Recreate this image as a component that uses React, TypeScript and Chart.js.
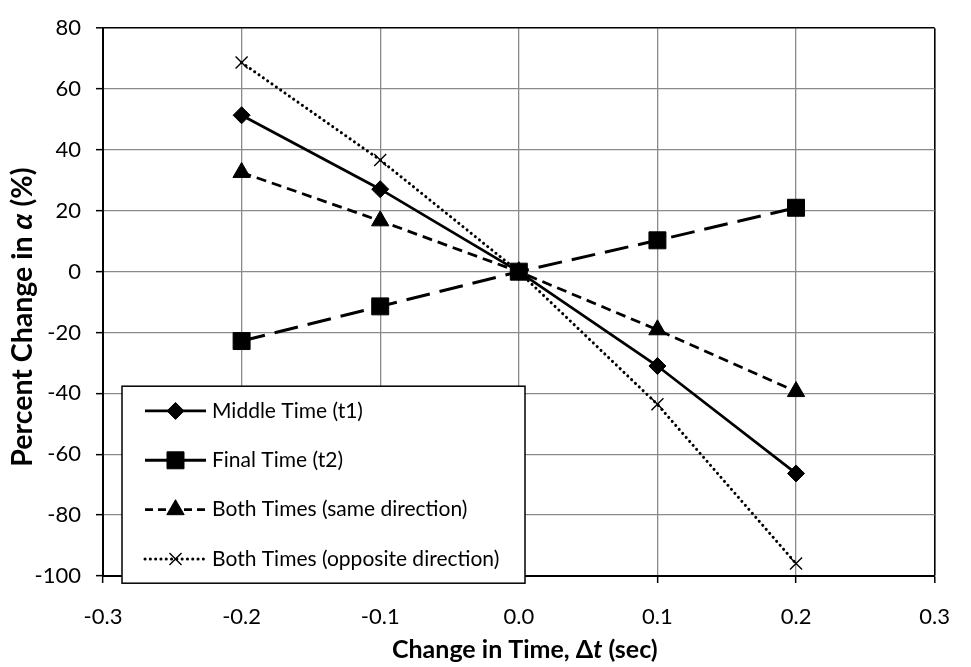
import React, { useEffect, useRef } from 'react';
import { Chart, registerables } from 'chart.js';

Chart.register(...registerables);

// ---- data ----
const deltaT = [-0.2, -0.1, 0.0, 0.1, 0.2];
const middleTime = [51.4, 27.1, 0, -31.0, -66.3];
const finalTime = [-22.8, -11.4, 0, 10.3, 21.0];
const bothSame = [32.6, 16.7, 0, -19.1, -39.4];
const bothOpposite = [68.7, 36.7, 0, -43.6, -95.9];
const seriesLabels = [
  'Middle Time (t1)',
  'Final Time (t2)',
  'Both Times (same direction)',
  'Both Times (opposite direction)',
];
const xMin = -0.3;
const xMax = 0.3;
const xStep = 0.1;
const yMin = -100;
const yMax = 80;
const yStep = 20;
const xTitleParts = [
  { text: 'Change in Time, \u0394', italic: false },
  { text: 't', italic: true },
  { text: ' (sec)', italic: false },
];
const yTitleParts = [
  { text: 'Percent Change in ', italic: false },
  { text: '\u03B1', italic: true },
  { text: ' (%)', italic: false },
];

const FONT = 'Lato, "Open Sans", sans-serif';
const GRID = '#8a8a8a';

function drawMarker(ctx: CanvasRenderingContext2D, style: string, x: number, y: number, r: number, bw: number) {
  ctx.save();
  ctx.fillStyle = '#000';
  ctx.strokeStyle = '#000';
  ctx.lineWidth = bw;
  ctx.setLineDash([]);
  ctx.beginPath();
  if (style === 'rectRot') {
    ctx.moveTo(x - r, y);
    ctx.lineTo(x, y - r);
    ctx.lineTo(x + r, y);
    ctx.lineTo(x, y + r);
    ctx.closePath();
    ctx.fill();
    ctx.stroke();
  } else if (style === 'rect') {
    const s = Math.SQRT1_2 * r;
    ctx.rect(x - s, y - s, 2 * s, 2 * s);
    ctx.fill();
    ctx.stroke();
  } else if (style === 'triangle') {
    for (let k = 0; k < 3; k++) {
      const ang = (k * 2 * Math.PI) / 3;
      const px = x + Math.sin(ang) * r;
      const py = y - Math.cos(ang) * r;
      if (k === 0) ctx.moveTo(px, py);
      else ctx.lineTo(px, py);
    }
    ctx.closePath();
    ctx.fill();
    ctx.stroke();
  } else if (style === 'crossRot') {
    const d = Math.SQRT1_2 * r;
    ctx.moveTo(x - d, y - d);
    ctx.lineTo(x + d, y + d);
    ctx.moveTo(x - d, y + d);
    ctx.lineTo(x + d, y - d);
    ctx.stroke();
  }
  ctx.restore();
}

function drawMixed(
  ctx: CanvasRenderingContext2D,
  parts: { text: string; italic: boolean }[],
  size: number,
  cx: number,
  cy: number,
  rot: number
) {
  ctx.save();
  ctx.translate(cx, cy);
  ctx.rotate(rot);
  ctx.fillStyle = '#000';
  ctx.textBaseline = 'middle';
  ctx.textAlign = 'left';
  const fonts = parts.map((p) => `${p.italic ? 'italic ' : ''}bold ${size}px ${FONT}`);
  let total = 0;
  const widths = parts.map((p, i) => {
    ctx.font = fonts[i];
    const w = ctx.measureText(p.text).width;
    total += w;
    return w;
  });
  let x = -total / 2;
  parts.forEach((p, i) => {
    ctx.font = fonts[i];
    ctx.fillText(p.text, x, 0);
    x += widths[i];
  });
  ctx.restore();
}

const boxLegend = {
  id: 'boxLegend',
  afterDatasetsDraw(chart: any) {
    const { ctx, chartArea } = chart;
    const left = chartArea.left + 19;
    const top = chartArea.top + 358;
    const w = 403;
    const h = 197;
    ctx.save();
    ctx.fillStyle = '#fff';
    ctx.fillRect(left, top, w, h);
    ctx.strokeStyle = '#000';
    ctx.lineWidth = 1.5;
    ctx.setLineDash([]);
    ctx.strokeRect(left, top, w, h);
    chart.data.datasets.forEach((ds: any, i: number) => {
      const y = top + 24.7 + i * 49.4;
      const x0 = left + 23;
      const x1 = left + 84;
      ctx.save();
      ctx.beginPath();
      ctx.strokeStyle = '#000';
      ctx.lineWidth = ds.borderWidth;
      ctx.lineCap = ds.borderCapStyle || 'butt';
      ctx.setLineDash(ds.legendDash || []);
      ctx.moveTo(x0, y);
      ctx.lineTo(x1, y);
      ctx.stroke();
      ctx.restore();
      drawMarker(ctx, ds.pointStyle, (x0 + x1) / 2, y, ds.pointRadius, ds.pointBorderWidth);
      ctx.fillStyle = '#000';
      ctx.font = `21px ${FONT}`;
      ctx.textBaseline = 'middle';
      ctx.textAlign = 'left';
      ctx.fillText(ds.label, left + 90, y);
    });
    ctx.restore();
  },
  afterDraw(chart: any) {
    const { ctx, chartArea } = chart;
    drawMixed(ctx, xTitleParts, 25, (chartArea.left + chartArea.right) / 2 + 6, 650, 0);
    drawMixed(ctx, yTitleParts, 28.5, 23, (chartArea.top + chartArea.bottom) / 2 + 15, -Math.PI / 2);
  },
};

const near = (a: number, b: number) => Math.abs(a - b) < 1e-9;

export default function App() {
  const ref = useRef<HTMLCanvasElement | null>(null);
  useEffect(() => {
    document.body.style.margin = '0';
    const canvas = ref.current;
    if (!canvas) return;
    const mk = (vals: number[]) => deltaT.map((x, i) => ({ x, y: vals[i] }));
    const chart = new Chart(canvas, {
      type: 'line',
      data: {
        datasets: [
          {
            label: seriesLabels[0],
            data: mk(middleTime),
            borderColor: '#000',
            backgroundColor: '#000',
            borderWidth: 2.75,
            borderDash: [],
            legendDash: [],
            pointStyle: 'rectRot',
            pointRadius: 8.5,
            pointBorderWidth: 1,
          } as any,
          {
            label: seriesLabels[1],
            data: mk(finalTime),
            borderColor: '#000',
            backgroundColor: '#000',
            borderWidth: 3,
            borderDash: [24, 10],
            legendDash: [],
            pointStyle: 'rect',
            pointRadius: 12,
            pointBorderWidth: 1,
          } as any,
          {
            label: seriesLabels[2],
            data: mk(bothSame),
            borderColor: '#000',
            backgroundColor: '#000',
            borderWidth: 2.75,
            borderDash: [10, 6],
            legendDash: [8, 5],
            pointStyle: 'triangle',
            pointRadius: 10,
            pointBorderWidth: 1,
          } as any,
          {
            label: seriesLabels[3],
            data: mk(bothOpposite),
            borderColor: '#000',
            backgroundColor: '#000',
            borderWidth: 3,
            borderCapStyle: 'round',
            borderDash: [0.1, 5.2],
            legendDash: [0.1, 5.2],
            pointStyle: 'crossRot',
            pointRadius: 8.5,
            pointBorderWidth: 1.4,
          } as any,
        ],
      },
      options: {
        responsive: false,
        animation: false,
        devicePixelRatio: 1,
        layout: { padding: { top: 14, right: 20, left: 0, bottom: 0 } },
        plugins: { legend: { display: false }, tooltip: { enabled: false } },
        elements: { line: { tension: 0 } },
        scales: {
          x: {
            type: 'linear',
            min: xMin,
            max: xMax,
            ticks: {
              stepSize: xStep,
              color: '#000',
              font: { family: FONT, size: 22 },
              padding: 21,
              callback: (v: any) => (near(Number(v), 0) ? '0.0' : Number(v).toFixed(1)),
            },
            grid: {
              color: (c: any) => (near(c.tick?.value ?? 0, xMax) ? '#000' : GRID),
              lineWidth: (c: any) => (near(c.tick?.value ?? 0, xMax) ? 1.6 : 1.3),
              tickColor: '#000',
              tickLength: 7,
              tickWidth: 1.5,
            },
            border: { color: '#000', width: 2 },
            afterFit: (s: any) => {
              s.height = 91;
            },
          },
          y: {
            type: 'linear',
            min: yMin,
            max: yMax,
            ticks: {
              stepSize: yStep,
              color: '#000',
              font: { family: FONT, size: 22 },
              padding: 15,
            },
            grid: {
              color: (c: any) => (near(c.tick?.value ?? 0, yMax) ? '#000' : GRID),
              lineWidth: (c: any) => (near(c.tick?.value ?? 0, yMax) ? 1.6 : 1.3),
              tickColor: '#000',
              tickLength: 7,
              tickWidth: 1.5,
            },
            border: { color: '#000', width: 2 },
            afterFit: (s: any) => {
              s.width = 103;
            },
          },
        },
      } as any,
      plugins: [boxLegend],
    });
    return () => chart.destroy();
  }, []);
  return (
    <div style={{ position: 'absolute', left: 0, top: 0, width: 971, height: 667, background: '#fff' }}>
      <canvas ref={ref} width={971} height={667} style={{ display: 'block' }} />
    </div>
  );
}
